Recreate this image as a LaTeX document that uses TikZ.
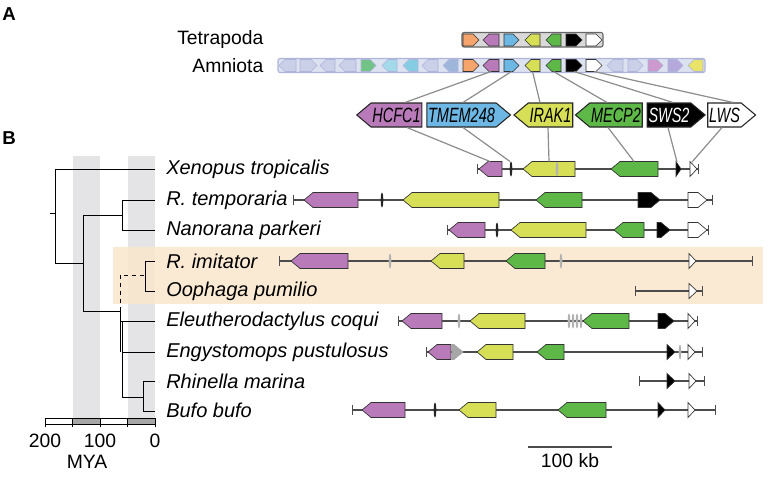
\documentclass[tikz,border=0pt]{standalone}
\usepackage{fontspec}
\setmainfont{Liberation Sans}
\newfontfamily\genefont[FakeStretch=0.7]{Liberation Sans}
\usetikzlibrary{shapes.symbols,arrows.meta}
\definecolor{hcfc}{HTML}{B97AB9}
\definecolor{tmem}{HTML}{6CB7E4}
\definecolor{irak}{HTML}{D6DF55}
\definecolor{mecp}{HTML}{5DB847}
\definecolor{orng}{HTML}{F5A46C}
\definecolor{peach}{HTML}{FAE6CB}
\definecolor{band}{HTML}{E4E4E7}
\definecolor{amn}{HTML}{DDE2F1}
\definecolor{amnline}{HTML}{AEB4DA}
\definecolor{fade}{HTML}{C9D0E8}
\definecolor{fgrn}{HTML}{72C486}
\definecolor{fcyl}{HTML}{A3DAEA}
\definecolor{fcyn}{HTML}{86CDE3}
\definecolor{fstl}{HTML}{9DB6DA}
\definecolor{fpnk}{HTML}{CC9ACD}
\definecolor{flav}{HTML}{B5A9DB}
\definecolor{fyel}{HTML}{E9E36A}
\definecolor{linkc}{HTML}{8C8C8C}
\newcommand{\gnh}{7.5}
\newcommand{\gnt}{9}
\newcommand{\geneR}[4]{\filldraw[gene,fill=#4] (#1,#3-\gnh) -- ({max(#1,#2-\gnt)},#3-\gnh) -- (#2,#3) -- ({max(#1,#2-\gnt)},#3+\gnh) -- (#1,#3+\gnh) -- cycle;}
\newcommand{\geneL}[4]{\filldraw[gene,fill=#4] (#2,#3-\gnh) -- ({min(#2,#1+\gnt)},#3-\gnh) -- (#1,#3) -- ({min(#2,#1+\gnt)},#3+\gnh) -- (#2,#3+\gnh) -- cycle;}
\newcommand{\sliver}[3]{\fill[#3] (#1,#2) ellipse (1.3 and 7.5);}
\begin{document}
\begin{tikzpicture}[x=0.75pt, y=-0.75pt,
  gene/.style={draw=black!80, line width=0.5pt},
  bb/.style={draw=black!70, line width=0.8pt},
  ends/.style={bb, {Bar[width=7pt]}-{Bar[width=7pt]}},
  link/.style={draw=linkc, line width=0.9pt},
  br/.style={line width=0.7pt},
  sp/.style={anchor=west, inner sep=0pt, font=\fontsize{15}{17}\selectfont\itshape},
  glab/.style={signal, draw=black!85, line width=0.8pt, minimum height=18pt, inner xsep=1pt,
    signal pointer angle=80, font=\genefont\fontsize{15.5}{17}\selectfont\itshape},
  panel/.style={font=\fontsize{14}{16}\selectfont\bfseries},
  ax/.style={font=\fontsize{14.5}{16}\selectfont}]
\useasboundingbox (0,0) rectangle (771,479);
\fill[band] (72.5,156) rectangle (100,418);
\fill[band] (127.5,156) rectangle (155,418);
\fill[peach, fill opacity=0.85] (113,247) rectangle (763,304);

\node[panel] (pa) at (9,14) {A};
\node[panel] (pb) at (9,138) {B};

% panel A
\node[ax, anchor=east] (tet) at (268,39.5) {Tetrapoda};
\node[ax, anchor=east] (amn) at (268,65.5) {Amniota};
\begin{scope}
\def\gnh{6}\def\gnt{6}
\filldraw[fill=black!15, draw=black!60, line width=0.8pt, rounded corners=1.5] (462,32.5) rectangle (603,47);
\filldraw[fill=amn, draw=amnline, line width=0.8pt, rounded corners=1.5] (278,58.5) rectangle (705,72.5);
\foreach \y in {40,65.5} {
  \geneR{463}{479}{\y}{orng}
  \geneL{483}{499}{\y}{hcfc}
  \geneR{504}{519}{\y}{tmem}
  \geneL{525}{540}{\y}{irak}
  \geneL{546}{561}{\y}{mecp}
  \geneR{566}{582}{\y}{black}
  \geneR{586}{602}{\y}{white}
}
\geneL{279}{296}{65.5}{fade, draw=amnline}
\geneR{300}{317}{65.5}{fade, draw=amnline}
\geneL{320}{335}{65.5}{fade, draw=amnline}
\geneL{339}{356}{65.5}{fade, draw=amnline}
\geneR{361}{376}{65.5}{fgrn, draw=amnline}
\geneL{382}{397}{65.5}{fcyl, draw=amnline}
\geneL{403}{418}{65.5}{fcyn, draw=amnline}
\geneL{422}{438}{65.5}{fade, draw=amnline}
\geneL{443}{458}{65.5}{fstl, draw=amnline}
\geneL{607}{623}{65.5}{fade, draw=amnline}
\geneR{628}{643}{65.5}{fade, draw=amnline}
\geneR{648}{663}{65.5}{fpnk, draw=amnline}
\geneR{668}{683}{65.5}{flav, draw=amnline}
\geneL{688}{703}{65.5}{fyel, draw=amnline}
\end{scope}
\coordinate (am-hcfc1) at (491,71.5);
\coordinate (am-tmem) at (511.5,71.5);
\coordinate (am-irak) at (532.5,71.5);
\coordinate (am-mecp) at (553.5,71.5);
\coordinate (am-sws) at (574,71.5);
\coordinate (am-lws) at (594,71.5);

\node[glab, signal to=west, fill=hcfc] (l-hcfc1) at (396.5,115) {HCFC1};
\node[glab, signal to=east, fill=tmem] (l-tmem) at (461.5,115) {TMEM248};
\node[glab, signal to=west, fill=irak] (l-irak) at (550.5,115) {IRAK1};
\node[glab, signal to=west, fill=mecp] (l-mecp) at (616,115) {MECP2};
\node[glab, signal to=east, fill=black, text=white] (l-sws) at (669,115) {SWS2};
\node[glab, signal to=east, fill=white] (l-lws) at (724.5,115) {LWS};

% tree
\draw[br] (50,213) -- (55,213);
\draw[br] (155,169) -- (55,169) -- (55,263) -- (83,263);
\draw[br] (83,215) -- (83,311) -- (120,311);
\draw[br] (83,215) -- (122,215);
\draw[br] (155,200) -- (122,200) -- (122,230) -- (155,230);
\draw[br, dashed] (120,311) -- (120,275) -- (145,275);
\draw[br] (155,261) -- (145,261) -- (145,291) -- (155,291);
\draw[br] (120,311) -- (120,352);
\draw[br] (120,321) -- (155,321);
\draw[br] (122,321) -- (122,397) -- (143,397);
\draw[br] (122,352) -- (155,352);
\draw[br] (155,381) -- (143,381) -- (143,411) -- (155,411);

\fill[black!35] (72.5,418) rectangle (100,424);
\fill[black!35] (127.5,418) rectangle (155,424);
\draw[br] (45,418) rectangle (155,424);
\foreach \x in {45,72.5,100,127.5,155} {\draw[br] (\x,418) -- (\x,427);}
\node[ax] (t200) at (45,441) {200};
\node[ax] (t100) at (100,441) {100};
\node[ax] (t0) at (155,441) {0};
\node[ax] (mya) at (87,462) {MYA};

\node[sp] (xen) at (166,169) {Xenopus tropicalis};
\node[sp] (rtem) at (166,200) {R. temporaria};
\node[sp] (npar) at (166,230) {Nanorana parkeri};
\node[sp] (rimi) at (166,261) {R. imitator};
\node[sp] (opum) at (166,291) {Oophaga pumilio};
\node[sp] (ecoq) at (166,321) {Eleutherodactylus coqui};
\node[sp] (epus) at (166,352) {Engystomops pustulosus};
\node[sp] (rmar) at (166,381) {Rhinella marina};
\node[sp] (bbuf) at (166,410) {Bufo bufo};

% gene rows
\draw[ends] (477,169) -- (699,169);
\geneL{479}{502}{169}{hcfc}
\sliver{511}{169}{black!85}
\geneL{523}{575}{169}{irak}
\fill[black!30] (557,169) ellipse (1.3 and 7);
\geneL{611}{658}{169}{mecp}
\geneR{676}{681}{169}{black}
\geneR{690}{697}{169}{white}
\coordinate (xt-hcfc1) at (490,161.5);
\coordinate (xt-tmem) at (510,161.5);
\coordinate (xt-irak) at (549,161.5);
\coordinate (xt-mecp) at (634,161.5);
\coordinate (xt-sws) at (677,162);
\coordinate (xt-lws) at (692,162);

\draw[ends] (293,200) -- (713,200);
\geneL{304}{358}{200}{hcfc}
\sliver{382}{200}{black!85}
\geneL{403}{499}{200}{irak}
\geneL{536}{582}{200}{mecp}
\geneR{638}{660}{200}{black}
\geneR{688}{707}{200}{white}

\draw[ends] (447,230) -- (709,230);
\geneL{449}{485}{230}{hcfc}
\sliver{497}{230}{black!85}
\geneL{511}{586}{230}{irak}
\geneL{614}{644}{230}{mecp}
\geneR{657}{670}{230}{black}
\geneR{688}{707}{230}{white}

\draw[ends] (279,261) -- (753,261);
\geneL{291}{348}{261}{hcfc}
\sliver{390}{261}{black!30}
\geneL{431}{464}{261}{irak}
\geneL{506}{545}{261}{mecp}
\sliver{561}{261}{black!30}
\geneR{689}{696}{261}{white}

\draw[ends] (635,291) -- (703,291);
\geneR{689}{697}{291}{white}

\draw[ends] (398,321) -- (698,321);
\geneL{402}{442}{321}{hcfc}
\sliver{459}{321}{black!30}
\geneL{470}{525}{321}{irak}
\foreach \x in {569,573,577,581} {\sliver{\x}{321}{black!30}}
\geneL{583}{629}{321}{mecp}
\geneR{658}{674}{321}{black}
\geneR{688}{695}{321}{white}

\draw[ends] (426,352) -- (703,352);
\geneL{428}{451}{352}{hcfc}
\geneR{452}{463}{352}{black!35, draw=black!35}
\geneL{477}{513}{352}{irak}
\geneL{537}{564}{352}{mecp}
\geneR{667}{675}{352}{black}
\sliver{680}{352}{black!30}
\geneR{688}{695}{352}{white}

\draw[ends] (639,381) -- (705,381);
\geneR{667}{675}{381}{black}
\geneR{689}{696}{381}{white}

\draw[ends] (352,410) -- (716,410);
\geneL{362}{405}{410}{hcfc}
\sliver{435}{410}{black!85}
\geneL{459}{496}{410}{irak}
\geneL{558}{606}{410}{mecp}
\geneR{658}{665}{410}{black}
\geneR{688}{695}{410}{white}

% links
\draw[link] (am-hcfc1) -- ([shift={(8.5,0)}]l-hcfc1.north);
\draw[link] (am-tmem) -- ([shift={(1.5,0)}]l-tmem.north);
\draw[link] (am-irak) -- ([shift={(-10.5,0)}]l-irak.north);
\draw[link] (am-mecp) -- ([shift={(-9,0)}]l-mecp.north);
\draw[link] (am-sws) -- ([shift={(4,0)}]l-sws.north);
\draw[link] (am-lws) -- ([shift={(8.5,0)}]l-lws.north);
\draw[link] ([shift={(10.5,0)}]l-hcfc1.south) -- (xt-hcfc1);
\draw[link] ([shift={(1.5,0)}]l-tmem.south) -- (xt-tmem);
\draw[link] ([shift={(-2.5,0)}]l-irak.south) -- (xt-irak);
\draw[link] ([shift={(-8,0)}]l-mecp.south) -- (xt-mecp);
\draw[link] ([shift={(-1,0)}]l-sws.south) -- (xt-sws);
\draw[link] ([shift={(-2.5,0)}]l-lws.south) -- (xt-lws);

\draw[bb] (528,447) -- (612,447);
\node[ax] (kb) at (570,461) {100 kb};
\end{tikzpicture}
\end{document}
